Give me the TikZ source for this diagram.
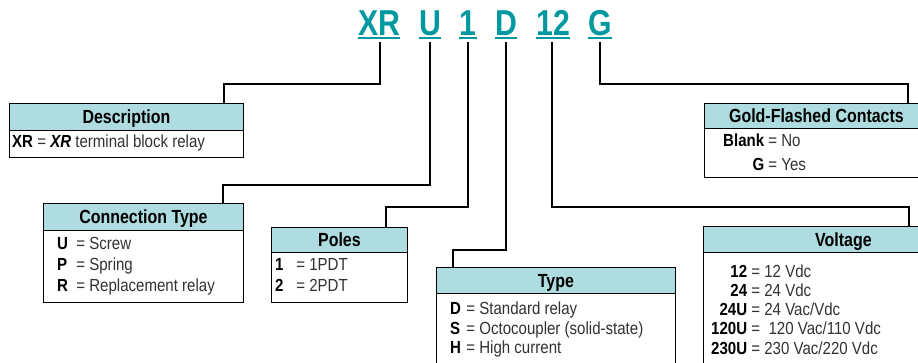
\documentclass[tikz,border=0pt]{standalone}
\usepackage{fontspec}
\setmainfont{Liberation Sans}
\newfontfamily\titlefont{Liberation Sans}[FakeStretch=0.84]
\newfontfamily\headfont{Liberation Sans}[FakeStretch=0.84]
\newfontfamily\bodyfont{Liberation Sans}[FakeStretch=0.86]
\definecolor{tealA}{RGB}{0,153,160}
\definecolor{hdrfill}{RGB}{174,220,224}
\definecolor{bodygray}{RGB}{50,50,50}
\newcommand{\kk}[1]{\textcolor{black}{\textbf{#1}}}
\begin{document}
\begin{tikzpicture}[x=1pt,y=-1pt,
  titletxt/.style={font=\titlefont\bfseries\fontsize{36}{36}\selectfont, text=tealA, inner sep=0pt, anchor=base},
  uline/.style={draw=tealA, line width=2.2pt},
  conn/.style={draw=black, line width=2pt},
  hdr/.style={draw=black, line width=0.9pt, fill=hdrfill, anchor=north west, inner sep=0pt,
    text height=13.5pt, text depth=0pt, font=\headfont\bfseries\fontsize{19}{19}\selectfont},
  bodybox/.style={draw=black, line width=0.9pt, fill=white, anchor=north west, inner sep=0pt},
  row/.style={font=\bodyfont\fontsize{17.5}{17.5}\selectfont, text=bodygray, inner sep=0pt, anchor=base west},
]
\useasboundingbox (0,0) rectangle (918,362);
\clip (0,0) rectangle (918,362);

% ---- title code letters ----
\node[titletxt] (tXR) at (379,35) {XR};
\node[titletxt] (tU)  at (430,35) {U};
\node[titletxt] (t1)  at (468,35) {1};
\node[titletxt] (tD)  at (506,35) {D};
\node[titletxt] (t12) at (553,35) {12};
\node[titletxt] (tG)  at (600,35) {G};
\foreach \n in {tXR,tU,t1,tD,t12,tG}{
  \draw[uline] ([yshift=-3pt]\n.base west) -- ([yshift=-3pt]\n.base east);
}

% ---- boxes ----
\node[bodybox, minimum width=234pt, minimum height=27pt] (bDesc) at (9,130) {};
\node[hdr, minimum width=234pt, minimum height=27pt] (hDesc) at (9,103) {Description};
\node[bodybox, minimum width=200pt, minimum height=72pt] (bConn) at (43,230) {};
\node[hdr, minimum width=200pt, minimum height=27pt] (hConn) at (43,203) {Connection Type};
\node[bodybox, minimum width=136pt, minimum height=50pt] (bPoles) at (271,252) {};
\node[hdr, minimum width=136pt, minimum height=25pt] (hPoles) at (271,227) {Poles};
\node[bodybox, minimum width=239pt, minimum height=80pt] (bType) at (436,293) {};
\node[hdr, minimum width=239pt, minimum height=26pt] (hType) at (436,267) {Type};
\node[bodybox, minimum width=224pt, minimum height=49pt] (bGold) at (704,128) {};
\node[hdr, minimum width=224pt, minimum height=25pt] (hGold) at (704,103) {Gold-Flashed Contacts};
\node[bodybox, minimum width=280pt, minimum height=120pt] (bVolt) at (703,252) {};
\node[hdr, minimum width=280pt, minimum height=26pt] (hVolt) at (703,226) {Voltage};

% ---- rows ----
\node[row] (rDesc) at (12,147) {\kk{XR} = \kk{\textit{XR}} terminal block relay};

\node[row] (rC1) at (57,249) {\makebox[15pt][l]{\kk{U}} = Screw};
\node[row] (rC2) at (57,270) {\makebox[15pt][l]{\kk{P}} = Spring};
\node[row] (rC3) at (57,291) {\makebox[15pt][l]{\kk{R}} = Replacement relay};

\node[row] (rP1) at (275,270) {\makebox[17pt][l]{\kk{1}} = 1PDT};
\node[row] (rP2) at (275,291) {\makebox[17pt][l]{\kk{2}} = 2PDT};

\node[row] (rT1) at (450,314) {\makebox[12pt][l]{\kk{D}} = Standard relay};
\node[row] (rT2) at (450,334) {\makebox[12pt][l]{\kk{S}} = Octocoupler (solid-state)};
\node[row] (rT3) at (450,353) {\makebox[12pt][l]{\kk{H}} = High current};

\node[row] (rG1) at (764,146) {\llap{\kk{Blank}} = No};
\node[row] (rG2) at (764,170) {\llap{\kk{G}} = Yes};

\node[row] (rV1) at (747,277) {\llap{\kk{12}} = 12 Vdc};
\node[row] (rV2) at (747,296) {\llap{\kk{24}} = 24 Vdc};
\node[row] (rV3) at (747,315) {\llap{\kk{24U}} = 24 Vac/Vdc};
\node[row] (rV4) at (747,334) {\llap{\kk{120U}} = \ 120 Vac/110 Vdc};
\node[row] (rV5) at (747,354) {\llap{\kk{230U}} = 230 Vac/220 Vdc};

% ---- connectors ----
\coordinate (sXR) at (380,42);  \coordinate (eXR) at (224,103);
\coordinate (sU)  at (430,42);  \coordinate (eU)  at (223,203);
\coordinate (s1)  at (468,42);  \coordinate (e1)  at (386,227);
\coordinate (sD)  at (506,42);  \coordinate (eD)  at (453,267);
\coordinate (s12) at (552,42);  \coordinate (e12) at (909,226);
\coordinate (sG)  at (600,42);  \coordinate (eG)  at (908,103);

\draw[conn] (sXR) -- ++(0,42) -| (eXR);
\draw[conn] (sU)  -- ++(0,143) -| (eU);
\draw[conn] (s1)  -- ++(0,165) -| (e1);
\draw[conn] (sD)  -- ++(0,208) -| (eD);
\draw[conn] (s12) -- ++(0,165) -| (e12);
\draw[conn] (sG)  -- ++(0,42) -| (eG);
\end{tikzpicture}
\end{document}
